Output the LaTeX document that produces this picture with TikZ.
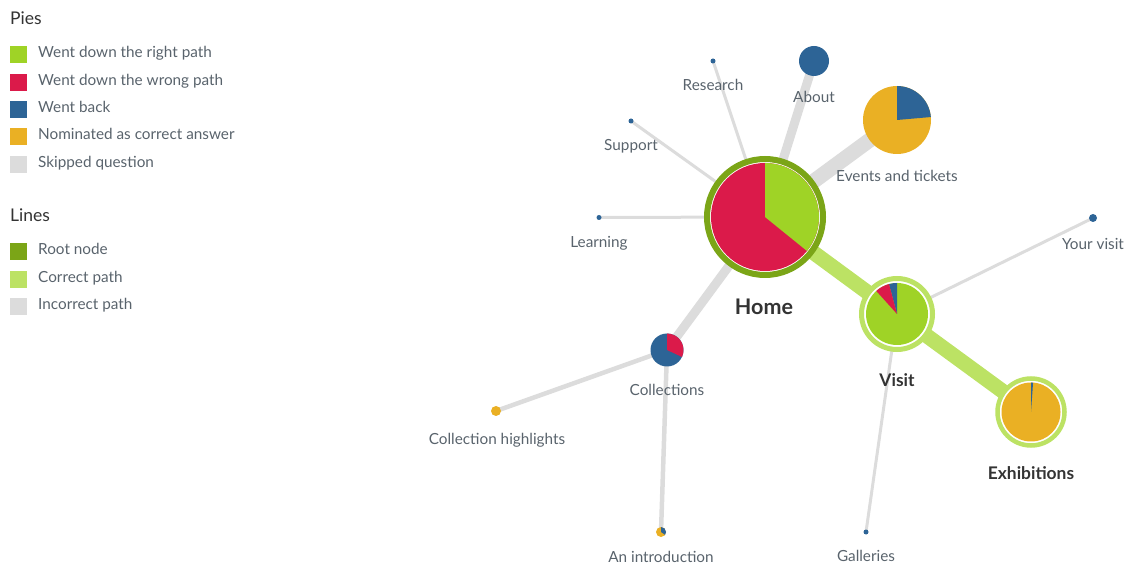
\documentclass[tikz,border=0pt]{standalone}
\usepackage{fontspec}
\setmainfont{Lato}
\definecolor{cright}{HTML}{9FD326}
\definecolor{cwrong}{HTML}{DB1A4A}
\definecolor{cback}{HTML}{2D6496}
\definecolor{cnom}{HTML}{EAB024}
\definecolor{cskip}{HTML}{DCDCDC}
\definecolor{croot}{HTML}{7BA517}
\definecolor{ccorr}{HTML}{BCE264}
\definecolor{cinc}{HTML}{DCDCDC}
\definecolor{ctext}{HTML}{59636C}
\definecolor{cdark}{HTML}{333333}
\newcommand\pieslice[5]{\fill[#5] (#1) -- ++(#3:#2) arc[start angle=#3, end angle=#4, radius=#2] -- cycle;}
\tikzset{
  lbl/.style={font=\fontsize{15.3}{17}\selectfont, text=ctext, inner sep=0pt},
  blbl/.style={font=\fontsize{17.4}{19}\selectfont\bfseries, text=cdark, inner sep=0pt},
  title/.style={font=\fontsize{17.5}{19}\selectfont, text=cdark, inner sep=0pt, anchor=mid west},
  legtxt/.style={font=\fontsize{15.3}{17}\selectfont, text=ctext, inner sep=0pt, anchor=mid west},
  sw/.style={minimum size=17pt, inner sep=0pt, anchor=west},
  thinl/.style={cinc, line width=3pt},
  medl/.style={cinc, line width=4.5pt},
  wrongl/.style={cinc, line width=9pt},
  wide/.style={cinc, line width=15pt},
  corrl/.style={ccorr, line width=15pt},
}
\begin{document}
\begin{tikzpicture}[x=1pt,y=1pt]
\useasboundingbox (0,0) rectangle (1124,565);
% legend
\node[title] (tp) at (10,543) {Pies};
\node[sw, fill=cright] (s1) at (10,510) {}; \node[legtxt] (t1) at (38,510) {Went down the right path};
\node[sw, fill=cwrong] (s2) at (10,482) {}; \node[legtxt] (t2) at (38,482) {Went down the wrong path};
\node[sw, fill=cback] (s3) at (10,455) {}; \node[legtxt] (t3) at (38,455) {Went back};
\node[sw, fill=cnom] (s4) at (10,428) {}; \node[legtxt] (t4) at (38,428) {Nominated as correct answer};
\node[sw, fill=cskip] (s5) at (10,400) {}; \node[legtxt] (t5) at (38,400) {Skipped question};
\node[title] (tl) at (10,346) {Lines};
\node[sw, fill=croot] (s6) at (10,313) {}; \node[legtxt] (t6) at (38,313) {Root node};
\node[sw, fill=ccorr] (s7) at (10,285) {}; \node[legtxt] (t7) at (38,285) {Correct path};
\node[sw, fill=cinc] (s8) at (10,258) {}; \node[legtxt] (t8) at (38,258) {Incorrect path};
% node positions
\coordinate (home) at (765,348);
\coordinate (visit) at (897,251);
\coordinate (exh) at (1031,153);
\coordinate (coll) at (667,215);
\coordinate (intro) at (661,33);
\coordinate (events) at (897,445);
\coordinate (about) at (814,504);
\coordinate (research) at (713,504);
\coordinate (support) at (631,444);
\coordinate (learning) at (599,347.5);
\coordinate (yourvisit) at (1093,347);
\coordinate (galleries) at (866,33);
\coordinate (highlights) at (496,154);
% connectors
\draw[thinl] (home) -- (research);
\draw[thinl] (home) -- (support);
\draw[thinl] (home) -- (learning);
\draw[wrongl] (home) -- (about);
\draw[wide] (home) -- (events);
\draw[wrongl] (home) -- (coll);
\draw[corrl] (home) -- (visit);
\draw[corrl] (visit) -- (exh);
\draw[thinl] (visit) -- (yourvisit);
\draw[thinl] (visit) -- (galleries);
\draw[medl] (coll) -- (highlights);
\draw[medl] (coll) -- (intro);
% Home
\fill[white] (home) circle[radius=59];
\draw[croot, line width=6pt] (home) circle[radius=58];
\fill[cwrong] (home) circle[radius=54];
\pieslice{home}{54}{90}{-39}{cright}
% Visit
\fill[white] (visit) circle[radius=36];
\draw[ccorr, line width=5pt] (visit) circle[radius=35.5];
\fill[cright] (visit) circle[radius=31];
\pieslice{visit}{31}{90}{105}{cback}
\pieslice{visit}{31}{105}{132}{cwrong}
% Exhibitions
\fill[white] (exh) circle[radius=34];
\draw[ccorr, line width=4.5pt] (exh) circle[radius=33.5];
\fill[cnom] (exh) circle[radius=29.5];
\pieslice{exh}{29.5}{90}{86}{cback}
% Collections
\fill[cback] (coll) circle[radius=16.5];
\pieslice{coll}{16.5}{90}{-25}{cwrong}
% An introduction
\fill[cnom] (intro) circle[radius=5];
\pieslice{intro}{5}{90}{-35}{cback}
% Events
\fill[cnom] (events) circle[radius=34];
\pieslice{events}{34}{90}{5}{cback}
% About
\fill[cback] (about) circle[radius=15];
% small dots
\fill[cback] (research) circle[radius=2.5];
\fill[cback] (support) circle[radius=2.5];
\fill[cback] (learning) circle[radius=2.5];
\fill[cback] (yourvisit) circle[radius=4];
\fill[cback] (galleries) circle[radius=2.5];
\fill[cnom] (highlights) circle[radius=5];
% labels
\node[lbl] (lres) at (713,480) {Research};
\node[lbl] (labout) at (814,468) {About};
\node[lbl] (lsup) at (631,419) {Support};
\node[lbl] (lev) at (897,389) {Events and tickets};
\node[lbl] (llearn) at (599,322) {Learning};
\node[lbl] (lyv) at (1093,321) {Your visit};
\node[font=\fontsize{21.5}{23}\selectfont\bfseries, text=cdark, inner sep=0pt] (lhome) at (764,258) {Home};
\node[blbl] (lvisit) at (897,185) {Visit};
\node[blbl] (lexh) at (1031,92) {Exhibitions};
\node[lbl] (lcoll) at (667,175) {Collections};
\node[lbl] (lhigh) at (497,125) {Collection highlights};
\node[lbl] (lintro) at (661,8) {An introduction};
\node[lbl] (lgal) at (866,9) {Galleries};
\end{tikzpicture}
\end{document}
